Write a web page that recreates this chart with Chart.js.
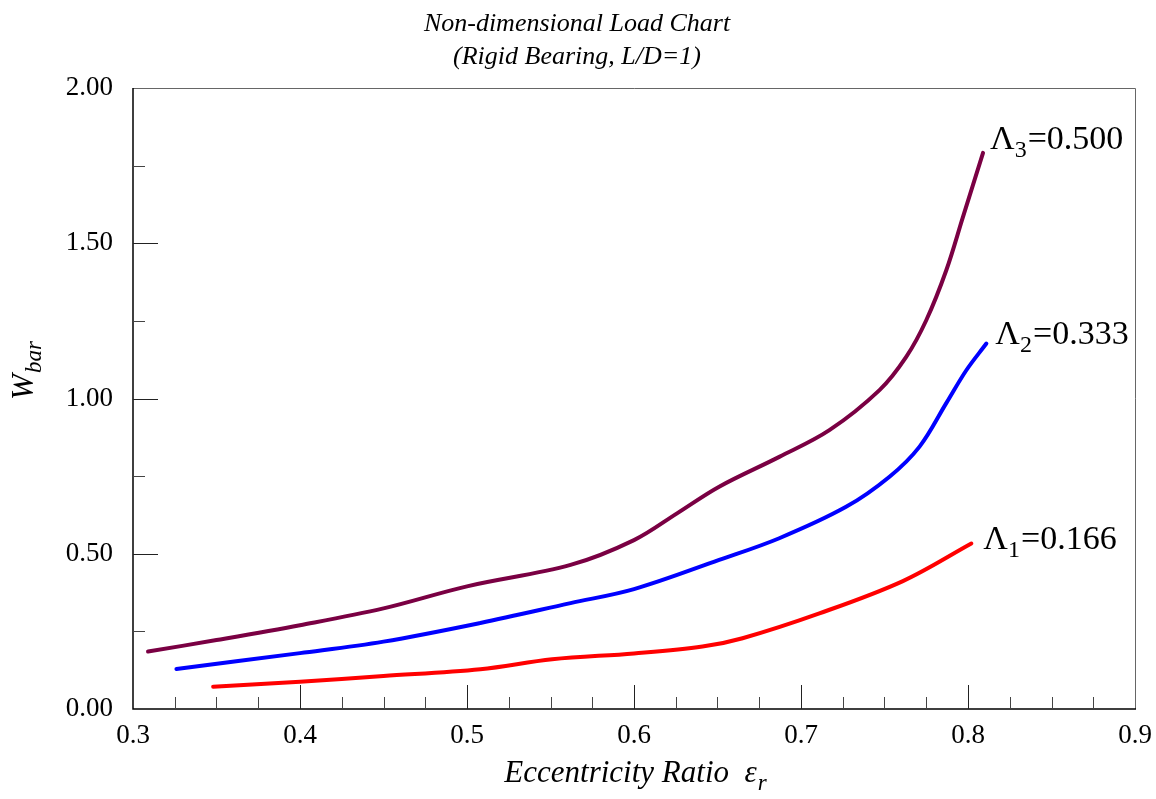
<!DOCTYPE html>
<html>
<head>
<meta charset="utf-8">
<script src="https://cdn.jsdelivr.net/npm/chart.js@4"></script>
<style>
  html, body { margin: 0; padding: 0; background: #fff; }
  #wrap { width: 1156px; height: 799px; }
</style>
</head>
<body>
<div id="wrap"><canvas id="loadChart"></canvas></div>
<script>
// eccentricity ratio / non-dimensional load
const eps1 = [0.348, 0.40, 0.45, 0.508, 0.551, 0.60, 0.641, 0.665, 0.711, 0.761, 0.802];
const wbar1 = [0.072, 0.088, 0.106, 0.128, 0.160, 0.179, 0.201, 0.228, 0.308, 0.412, 0.533];

const eps2 = [0.326, 0.40, 0.45, 0.508, 0.562, 0.60, 0.651, 0.687, 0.727, 0.753, 0.771, 0.787, 0.799, 0.811];
const wbar2 = [0.129, 0.180, 0.217, 0.277, 0.341, 0.386, 0.480, 0.550, 0.651, 0.748, 0.845, 0.985, 1.091, 1.177];

const eps3 = [0.309, 0.35, 0.40, 0.45, 0.50, 0.562, 0.60, 0.626, 0.651, 0.687, 0.717, 0.747, 0.763, 0.775, 0.787, 0.797, 0.809];
const wbar3 = [0.185, 0.222, 0.270, 0.324, 0.395, 0.464, 0.544, 0.631, 0.716, 0.812, 0.898, 1.027, 1.134, 1.252, 1.413, 1.585, 1.791];

const lambdaSubs = ["1", "2", "3"];
const lambdaVals = ["0.166", "0.333", "0.500"];
const lineColors = ["#ff0000", "#0000ff", "#7a0043"];

const xTicks = [0.3, 0.4, 0.5, 0.6, 0.7, 0.8, 0.9];
const yTicks = [0, 0.5, 1.0, 1.5, 2.0];

const titleLines = ["Non-dimensional Load Chart", "(Rigid Bearing, L/D=1)"];

const serif = "'Liberation Serif', 'Times New Roman', serif";
// label nudges from the end of each curve
const labelDx = [12, 9, 7];
const labelDy = [5, 0, -4];

function pts(xs, ys) {
  return xs.map((x, i) => ({ x: x, y: ys[i] }));
}

const allEps = [eps1, eps2, eps3];
const allW = [wbar1, wbar2, wbar3];

const datasets = allEps.map((xs, i) => ({
  data: pts(xs, allW[i]),
  borderColor: lineColors[i],
  borderWidth: 4,
  pointRadius: 0,
  tension: 0.35,
  borderCapStyle: "round",
  fill: false,
}));

// frame, inward ticks, titles and curve labels
const decor = {
  id: "decor",
  beforeDatasetsDraw(chart) {
    const c = chart.ctx;
    const a = chart.chartArea;
    const xs = chart.scales.x;
    const ys = chart.scales.y;
    c.save();
    c.strokeStyle = "#666";
    c.lineWidth = 1;
    c.beginPath();
    c.moveTo(a.left, a.top + 0.5);
    c.lineTo(a.right + 0.5, a.top + 0.5);
    c.lineTo(a.right + 0.5, a.bottom);
    c.stroke();
    c.strokeStyle = "#000";
    c.lineWidth = 1.5;
    c.beginPath();
    c.moveTo(a.left, a.top);
    c.lineTo(a.left, a.bottom);
    c.lineTo(a.right + 1, a.bottom);
    c.stroke();

    c.lineWidth = 1;
    for (let k = 1; k < 24; k++) {
      const v = 0.3 + k * 0.025;
      const px = Math.round(xs.getPixelForValue(v)) + 0.5;
      const major = k % 4 === 0;
      c.strokeStyle = major ? "#222" : "#444";
      c.beginPath();
      c.moveTo(px, a.bottom);
      c.lineTo(px, a.bottom - (major ? 24 : 12));
      c.stroke();
    }
    for (let k = 1; k < 8; k++) {
      const v = k * 0.25;
      const py = Math.round(ys.getPixelForValue(v)) + 0.5;
      const major = k % 2 === 0;
      c.strokeStyle = major ? "#222" : "#444";
      c.beginPath();
      c.moveTo(a.left, py);
      c.lineTo(a.left + (major ? 25 : 12), py);
      c.stroke();
    }
    c.restore();
  },
  afterDraw(chart) {
    const c = chart.ctx;
    const xs = chart.scales.x;
    const ys = chart.scales.y;
    c.save();
    c.fillStyle = "#000";
    c.textBaseline = "alphabetic";

    // main title
    c.font = "italic 26px " + serif;
    c.textAlign = "center";
    c.fillText(titleLines[0], 577, 31);
    c.fillText(titleLines[1], 577, 64);

    // x axis title with subscript
    c.textAlign = "left";
    const main = "Eccentricity Ratio  \u03b5";
    c.font = "italic 31px " + serif;
    const w1 = c.measureText(main).width;
    c.font = "italic 23px " + serif;
    const w2 = c.measureText("r").width;
    const sx = 635 - (w1 + w2) / 2;
    c.font = "italic 31px " + serif;
    c.fillText(main, sx, 782);
    c.font = "italic 23px " + serif;
    c.fillText("r", sx + w1 + 1, 790);

    // y axis title W_bar, rotated
    c.save();
    c.translate(33, 371);
    c.rotate(-Math.PI / 2);
    c.font = "italic 31px " + serif;
    const wW = c.measureText("W").width;
    c.font = "italic 23px " + serif;
    const wb = c.measureText("bar").width;
    const st = -(wW + wb) / 2;
    c.font = "italic 31px " + serif;
    c.fillText("W", st, 0);
    c.font = "italic 23px " + serif;
    c.fillText("bar", st + wW + 1, 8);
    c.restore();

    // curve labels at end of each line
    allEps.forEach((xsArr, i) => {
      const n = xsArr.length - 1;
      const px = xs.getPixelForValue(xsArr[n]) + labelDx[i];
      const py = ys.getPixelForValue(allW[i][n]) + labelDy[i];
      c.font = "34px " + serif;
      c.fillText("\u039b", px, py);
      const lw = c.measureText("\u039b").width;
      c.font = "24px " + serif;
      c.fillText(lambdaSubs[i], px + lw, py + 8);
      const sw = c.measureText(lambdaSubs[i]).width;
      c.font = "34px " + serif;
      c.fillText("=" + lambdaVals[i], px + lw + sw + 1, py);
    });
    c.restore();
  },
};

new Chart(document.getElementById("loadChart"), {
  type: "line",
  data: { datasets: datasets },
  options: {
    responsive: true,
    maintainAspectRatio: false,
    animation: false,
    layout: { padding: { top: 88, right: 21, left: 0, bottom: 0 } },
    plugins: { legend: { display: false }, tooltip: { enabled: false } },
    scales: {
      x: {
        type: "linear",
        min: 0.3,
        max: 0.9,
        afterBuildTicks: (s) => { s.ticks = xTicks.map((v) => ({ value: v })); },
        afterFit: (s) => { s.height = 90; s.paddingLeft = 0; s.paddingRight = 0; },
        grid: { display: false, drawTicks: false },
        border: { display: false },
        ticks: {
          padding: 11,
          color: "#000",
          font: { family: serif, size: 27 },
          maxRotation: 0,
          callback: (v) => Number(v).toFixed(1),
        },
      },
      y: {
        min: 0,
        max: 2,
        afterBuildTicks: (s) => { s.ticks = yTicks.map((v) => ({ value: v })); },
        afterFit: (s) => { s.width = 133; s.paddingTop = 0; s.paddingBottom = 0; },
        grid: { display: false, drawTicks: false },
        border: { display: false },
        ticks: {
          padding: 20,
          color: "#000",
          font: { family: serif, size: 27 },
          callback: (v) => Number(v).toFixed(2),
        },
      },
    },
  },
  plugins: [decor],
});
</script>
</body>
</html>
